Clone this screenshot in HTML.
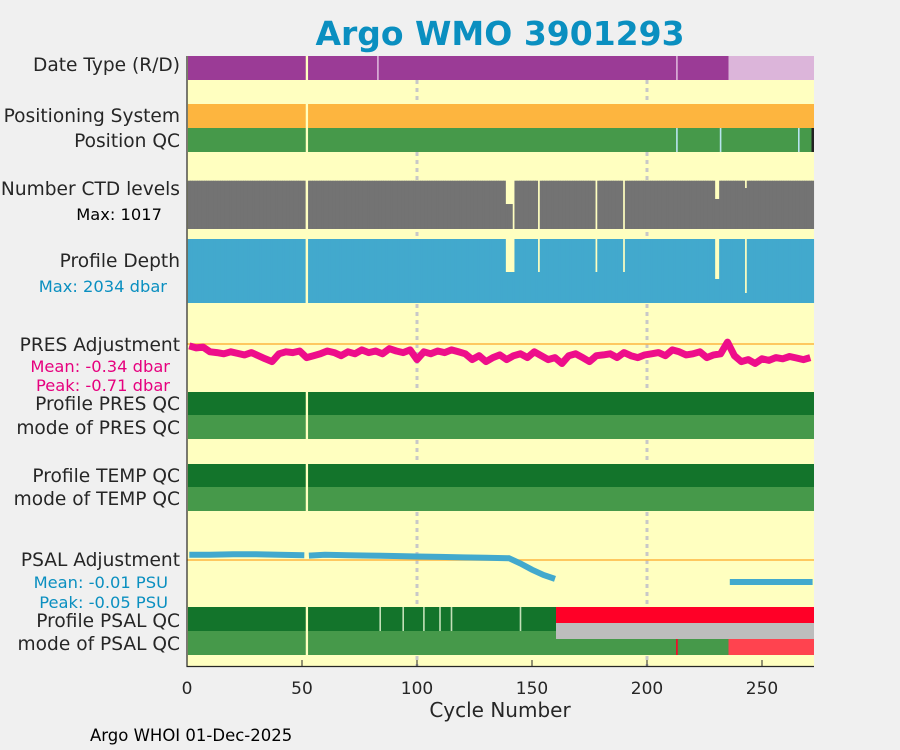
<!DOCTYPE html>
<html><head><meta charset="utf-8">
<style>
body{margin:0;background:#f0f0f0;width:900px;height:750px;overflow:hidden;font-family:"DejaVu Sans","Liberation Sans",sans-serif;}
svg{display:block}
</style></head>
<body>
<svg id="chart" width="900" height="750" xmlns="http://www.w3.org/2000/svg" font-family="DejaVu Sans, Liberation Sans, sans-serif">
<rect x="0" y="0" width="900" height="750" fill="#f0f0f0"/>
<rect x="187" y="56" width="627" height="610" fill="#ffffc0"/>
<g id="grid"></g>
<g id="marks"></g>
<line x1="187" y1="56" x2="187" y2="667" stroke="#262626" stroke-width="1.2"/>
<line x1="186.5" y1="666.5" x2="814" y2="666.5" stroke="#262626" stroke-width="1.2"/>
<g id="ticks"></g>
<text x="500" y="45" text-anchor="middle" font-size="33" font-weight="bold" fill="#0a8fc0">Argo WMO 3901293</text>
<text x="500" y="717" text-anchor="middle" font-size="20" fill="#262626">Cycle Number</text>
<text x="90" y="741" font-size="16.5" fill="#000">Argo WHOI 01-Dec-2025</text>
<g font-size="18.6" fill="#262626" text-anchor="end">
<text x="180" y="71">Date Type (R/D)</text>
<text x="180" y="122">Positioning System</text>
<text x="180" y="147">Position QC</text>
<text x="180" y="195">Number CTD levels</text>
<text x="162" y="220" font-size="16.3" fill="#000">Max: 1017</text>
<text x="180" y="267">Profile Depth</text>
<text x="167" y="292" font-size="16.3" fill="#0a8fc0">Max: 2034 dbar</text>
<text x="180" y="351">PRES Adjustment</text>
<text x="170" y="372" font-size="16.3" fill="#e6007e">Mean: -0.34 dbar</text>
<text x="170" y="391" font-size="16.3" fill="#e6007e">Peak: -0.71 dbar</text>
<text x="180" y="410">Profile PRES QC</text>
<text x="180" y="434">mode of PRES QC</text>
<text x="180" y="482">Profile TEMP QC</text>
<text x="180" y="505">mode of TEMP QC</text>
<text x="180" y="566">PSAL Adjustment</text>
<text x="168" y="588" font-size="16.3" fill="#0a8fc0">Mean: -0.01 PSU</text>
<text x="168" y="608" font-size="16.3" fill="#0a8fc0">Peak: -0.05 PSU</text>
<text x="180" y="627">Profile PSAL QC</text>
<text x="180" y="650">mode of PSAL QC</text>
</g>
</svg>
<script>
// ---- data ----
const xTicks = [0, 50, 100, 150, 200, 250];
const gridCycles = [100, 200];
const missingCycles = [52];
const dateTypeSegs = [[1, 235, '#9b3b96'], [236, 272, '#dcb5da']];
const dateTypeMarks = [83, 213];
const positioningSegs = [[1, 272, '#fdb53f']];
const positionQcSegs = [[1, 271, '#46994a'], [272, 272, '#222222']];
const positionQcMarks = [213, 232, 266];
const ctdMax = 1017;
const ctdExceptions = [[139, 526], [140, 526], [141, 526], [142, 0], [153, 0], [178, 0], [190, 0], [230, 632], [231, 632], [243, 863]];
const depthMax = 2034;
const depthExceptions = [[139, 985], [140, 985], [141, 985], [142, 985], [153, 985], [178, 985], [190, 985], [230, 763], [231, 763], [243, 318]];
const presCycles0 = 1, presStep = 3;
const presValues = [-0.05,-0.10,-0.08,-0.20,-0.22,-0.25,-0.20,-0.24,-0.28,-0.22,
-0.30,-0.38,-0.45,-0.25,-0.20,-0.22,-0.18,-0.35,-0.30,-0.25,
-0.18,-0.22,-0.30,-0.20,-0.25,-0.15,-0.22,-0.18,-0.25,-0.12,
-0.18,-0.22,-0.15,-0.40,-0.20,-0.25,-0.18,-0.22,-0.15,-0.20,
-0.25,-0.40,-0.30,-0.45,-0.35,-0.28,-0.40,-0.30,-0.25,-0.35,
-0.20,-0.30,-0.40,-0.35,-0.50,-0.30,-0.25,-0.35,-0.45,-0.30,
-0.28,-0.25,-0.35,-0.22,-0.30,-0.35,-0.28,-0.25,-0.22,-0.30,
-0.15,-0.20,-0.28,-0.25,-0.20,-0.35,-0.28,-0.25,0.05,-0.30,
-0.45,-0.40,-0.50,-0.38,-0.42,-0.35,-0.38,-0.32,-0.36,-0.40,-0.35];
const psalCycles = [1,10,20,30,40,51,53,60,70,80,90,100,110,120,130,140,145,150,155,160];
const psalValues = [0.012,0.012,0.013,0.013,0.012,0.011,0.010,0.012,0.011,0.010,0.009,0.008,0.007,0.006,0.005,0.004,-0.008,-0.022,-0.034,-0.043];
const psalCycles2 = [236, 272];
const psalValues2 = [-0.050, -0.050];
const presQcSegs = [[1, 272, '#13742b']];
const presModeSegs = [[1, 272, '#46994a']];
const tempQcSegs = [[1, 272, '#13742b']];
const tempModeSegs = [[1, 272, '#46994a']];
const psalQcSegs = [[1, 160, '#13742b'], [161, 272, '#ff0027']];
const psalQcMarks = [84, 94, 103, 110, 115, 145];
const psalModeSegs = [[1, 160, '#46994a'], [161, 272, '#bdbdbd'], [161, 235, '#46994a'], [236, 272, '#ff434f'], [213, 213, '#ff0027']];

// ---- scales ----
const X0 = 187, PX = 2.3;
const xs = c => X0 + PX * c;
const NS = 'http://www.w3.org/2000/svg';
const marks = document.getElementById('marks');
function mk(tag, attrs, parent) {
  const e = document.createElementNS(NS, tag);
  for (const k in attrs) e.setAttribute(k, attrs[k]);
  (parent || marks).appendChild(e);
  return e;
}
function segRow(segs, y0, y1, name) {
  segs.forEach(s => {
    const r = mk('rect', {x: xs(s[0] - 0.5), y: y0, width: xs(s[1] + 0.5) - xs(s[0] - 0.5), height: y1 - y0, fill: s[2], 'shape-rendering': 'crispEdges'});
    
    
  });
}
function markRow(list, y0, y1, color, name) {
  list.forEach(c => {
    const r = mk('rect', {x: xs(c) - 0.8, y: y0, width: 1.6, height: y1 - y0, fill: color});
    
    
  });
}
function gapRow(y0, y1) {
  missingCycles.forEach(c => {
    const r = mk('rect', {x: xs(c - 0.5) + 0.3, y: y0, width: PX, height: y1 - y0, fill: '#ffffc0'});
    
    
  });
}

const grid = document.getElementById('grid');
gridCycles.forEach(c => {
  const l = mk('line', {x1: xs(c), x2: xs(c), y1: 56, y2: 666, stroke: '#c8c8c8', 'stroke-width': 3, 'stroke-dasharray': '4,4'}, grid);
  
  
});

segRow(dateTypeSegs, 56, 80, 'date-type');
markRow(dateTypeMarks, 56, 80, '#dcb5da', 'date-type');
gapRow(56, 80);
segRow(positioningSegs, 104, 128, 'positioning-system');
gapRow(104, 128);
segRow(positionQcSegs, 128, 152, 'position-qc');
markRow(positionQcMarks, 128, 152, '#b8e4f0', 'position-qc');
gapRow(128, 152);

const ctdBase = 229, ctdH = 48.3;
const depthBase = 303, depthH = 64;
for (let c = 1; c <= 272; c++) {
  if (missingCycles.includes(c)) continue;
  const ex = ctdExceptions.find(e => e[0] === c);
  const v = ex ? ex[1] : ctdMax;
  const h = v / ctdMax * ctdH;
  const r = mk('rect', {x: xs(c - 0.5) - 0.3, y: ctdBase - h, width: PX + 0.6, height: h, fill: '#737373'});
  
  
  const ex2 = depthExceptions.find(e => e[0] === c);
  const d = ex2 ? ex2[1] : depthMax;
  const h2 = d / depthMax * depthH;
  const r2 = mk('rect', {x: xs(c - 0.5) - 0.3, y: depthBase - h2, width: PX + 0.6, height: h2, fill: '#42a9cd'});
  
  
}
gapRow(180, 230);
gapRow(238, 304);

const presZero = 344, presScale = 39;
const zl = mk('line', {x1: 187, x2: 814, y1: presZero, y2: presZero, stroke: '#fdb53f', 'stroke-width': 1.5});


let pd = '';
presValues.forEach((v, i) => {
  const c = presCycles0 + i * presStep;
  pd += (i ? 'L' : 'M') + xs(c).toFixed(1) + ',' + (presZero - v * presScale).toFixed(1);
});
const pl = mk('path', {d: pd, fill: 'none', stroke: '#ee0e8a', 'stroke-width': 7, 'stroke-linejoin': 'round'});



segRow(presQcSegs, 392, 415, 'profile-pres-qc');
segRow(presModeSegs, 415, 439, 'mode-pres-qc');
gapRow(392, 439);
segRow(tempQcSegs, 464, 487, 'profile-temp-qc');
segRow(tempModeSegs, 487, 511, 'mode-temp-qc');
gapRow(464, 511);

const psalZero = 560, psalScale = 440;
const zl2 = mk('line', {x1: 187, x2: 814, y1: psalZero, y2: psalZero, stroke: '#fdb53f', 'stroke-width': 1.5});


function psalPath(cs, vs) {
  let d = '', pen = false;
  cs.forEach((c, i) => {
    const brk = i > 0 && missingCycles.some(m => m > cs[i - 1] && m < c);
    d += (!pen || brk ? 'M' : 'L') + xs(c).toFixed(1) + ',' + (psalZero - vs[i] * psalScale).toFixed(1);
    pen = true;
  });
  return d;
}
const sl = mk('path', {d: psalPath(psalCycles, psalValues), fill: 'none', stroke: '#42a9cd', 'stroke-width': 6});


const sl2 = mk('path', {d: psalPath(psalCycles2, psalValues2), fill: 'none', stroke: '#42a9cd', 'stroke-width': 6});



segRow(psalQcSegs, 607, 631, 'profile-psal-qc');
markRow(psalQcMarks, 607, 631, '#c3e0b8', 'profile-psal-qc');
segRow(psalModeSegs.slice(0, 1), 631, 655, 'mode-psal-qc');
segRow(psalModeSegs.slice(1, 2), 623, 639, 'psal-no-data');
segRow(psalModeSegs.slice(2, 4), 639, 655, 'mode-psal-qc');
markRow([psalModeSegs[4][0]], 639, 655, psalModeSegs[4][2], 'mode-psal-qc');
gapRow(607, 655);

const tg = document.getElementById('ticks');
xTicks.forEach(t => {
  const l = mk('line', {x1: xs(t), x2: xs(t), y1: 660, y2: 666, stroke: '#262626', 'stroke-width': 1}, tg);
  
  
  const tx = mk('text', {x: xs(t), y: 694, 'text-anchor': 'middle', 'font-size': 17, fill: '#262626'}, tg);
  tx.textContent = t;
  
  
});
</script>
</body></html>
